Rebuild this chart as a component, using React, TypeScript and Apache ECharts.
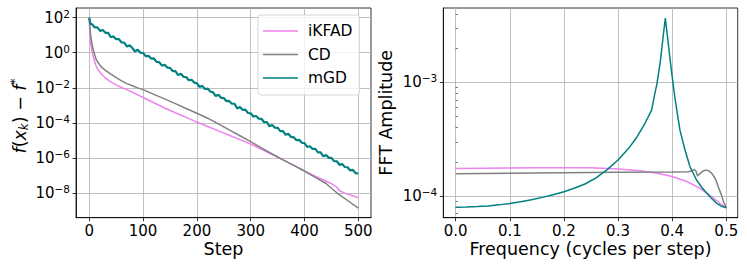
import React, { useEffect, useRef } from 'react';
import * as echarts from 'echarts';

// ---------- Left panel: optimality gap f(x_k) - f* (stored as log10 values) ----------
const stepTicks = [0, 100, 200, 300, 400, 500];
const gapTickExps = [-8, -6, -4, -2, 0, 2];

const ikfadSteps = [0, 1, 2, 3, 4, 6, 8, 10, 12, 15, 20, 25, 30, 40, 50, 60, 70, 80, 90, 100, 120, 140, 160, 180, 200, 220, 240, 260, 280, 300, 320, 340, 360, 380, 400, 420, 440, 450, 460, 466, 475, 490, 500];
const ikfadLog10 = [2.0, 1.1, 0.7, 0.45, 0.25, -0.05, -0.3, -0.5, -0.7, -0.9, -1.12, -1.3, -1.44, -1.66, -1.83, -1.98, -2.1, -2.25, -2.4, -2.55, -2.85, -3.15, -3.42, -3.68, -3.95, -4.2, -4.45, -4.7, -4.95, -5.2, -5.5, -5.8, -6.1, -6.42, -6.74, -7.03, -7.32, -7.46, -7.66, -7.88, -8.0, -8.15, -8.26];

const cdSteps = [0, 1, 2, 3, 4, 6, 8, 10, 12, 15, 20, 25, 30, 40, 50, 60, 70, 80, 90, 100, 120, 140, 160, 180, 200, 220, 240, 260, 280, 300, 320, 340, 360, 380, 400, 420, 440, 460, 480, 500];
const cdLog10 = [2.0, 1.55, 1.15, 0.9, 0.7, 0.35, 0.08, -0.12, -0.32, -0.5, -0.72, -0.88, -1.0, -1.22, -1.42, -1.6, -1.76, -1.88, -2.0, -2.1, -2.37, -2.63, -2.9, -3.18, -3.45, -3.73, -4.05, -4.4, -4.73, -5.07, -5.42, -5.77, -6.1, -6.42, -6.74, -7.1, -7.45, -7.98, -8.42, -8.86];

const mgdSteps = [0, 2, 5, 10, 15, 20, 25, 30, 35, 40, 45, 50, 55, 60, 65, 70, 75, 80, 85, 90, 95, 100,
  105, 110, 115, 120, 125, 130, 135, 140, 145, 150, 155, 160, 165, 170, 175, 180, 185, 190, 195, 200,
  205, 210, 215, 220, 225, 230, 235, 240, 245, 250, 255, 260, 265, 270, 275, 280, 285, 290, 295, 300,
  305, 310, 315, 320, 325, 330, 335, 340, 345, 350, 355, 360, 365, 370, 375, 380, 385, 390, 395, 400,
  405, 410, 415, 420, 425, 430, 435, 440, 445, 450, 455, 460, 465, 470, 475, 480, 485, 490, 495, 500];
const mgdLog10 = [2.0, 1.65, 1.625, 1.45, 1.444, 1.248, 1.293, 1.137, 1.131, 0.885, 0.93, 0.774, 0.778, 0.583, 0.577, 0.351, 0.426, 0.27, 0.074, 0.178, 0.003, -0.013,
  -0.199, -0.174, -0.33, -0.326, -0.522, -0.537, -0.733, -0.679, -0.844, -0.86, -1.046, -1.041, -1.277, -1.193, -1.369, -1.384, -1.57, -1.536, -1.701, -1.737,
  -1.943, -1.888, -2.064, -2.04, -2.216, -2.251, -2.467, -2.393, -2.568, -2.584, -2.76, -2.745, -2.901, -2.907, -3.173, -3.098, -3.254, -3.24, -3.435, -3.451,
  -3.637, -3.602, -3.758, -3.764, -3.96, -3.955, -4.191, -4.117, -4.272, -4.278, -4.464, -4.469, -4.675, -4.621, -4.797, -4.822, -4.988, -4.964, -5.129, -5.145,
  -5.371, -5.326, -5.482, -5.478, -5.674, -5.679, -5.905, -5.831, -5.986, -5.992, -6.178, -6.183, -6.389, -6.345, -6.511, -6.526, -6.712, -6.678, -6.863, -6.879];

// ---------- Right panel: FFT amplitude (stored as log10 values) ----------
const freqTicks = [0, 0.1, 0.2, 0.3, 0.4, 0.5];
const ampTickExps = [-4, -3];
const ampMinorValues = [7e-5, 8e-5, 9e-5, 2e-4, 3e-4, 4e-4, 5e-4, 6e-4, 7e-4, 8e-4, 9e-4, 2e-3, 3e-3, 4e-3];

const ikfadFreq = [0, 0.05, 0.1, 0.15, 0.2, 0.25, 0.3, 0.34, 0.37, 0.4, 0.427, 0.451, 0.47, 0.488, 0.5];
const ikfadAmpLog10 = [-3.757, -3.755, -3.753, -3.751, -3.75, -3.751, -3.762, -3.778, -3.797, -3.828, -3.872, -3.93, -3.995, -4.065, -4.103];

const cdFreq = [0, 0.1, 0.2, 0.3, 0.4, 0.43, 0.436, 0.441, 0.444, 0.447, 0.451, 0.456, 0.462, 0.468, 0.474, 0.48, 0.486, 0.491, 0.495, 0.5];
const cdAmpLog10 = [-3.804, -3.8, -3.795, -3.791, -3.789, -3.787, -3.78, -3.766, -3.78, -3.823, -3.805, -3.782, -3.772, -3.778, -3.805, -3.85, -3.93, -3.99, -4.05, -4.103];

const mgdFreq = [0, 0.02, 0.04, 0.06, 0.08, 0.1, 0.12, 0.14, 0.16, 0.18, 0.2, 0.22, 0.24, 0.26, 0.28, 0.3, 0.32, 0.335, 0.35, 0.356, 0.362, 0.367, 0.3714, 0.3755, 0.3788, 0.3836, 0.3874, 0.391, 0.396, 0.399, 0.402, 0.4055, 0.4095, 0.4144, 0.4237, 0.433, 0.445, 0.455, 0.464, 0.473, 0.482, 0.491, 0.5];
const mgdAmpLog10 = [-4.098, -4.097, -4.093, -4.087, -4.078, -4.066, -4.051, -4.033, -4.012, -3.988, -3.962, -3.93, -3.892, -3.838, -3.768, -3.683, -3.578, -3.48, -3.357, -3.3, -3.244, -3.12, -3.024, -2.9, -2.789, -2.584, -2.432, -2.584, -2.789, -2.91, -3.024, -3.15, -3.273, -3.42, -3.595, -3.742, -3.859, -3.925, -3.976, -4.022, -4.064, -4.09, -4.103];

const COLORS = { ikfad: '#ee82ee', cd: '#808080', mgd: '#008080' };
const FONT = "'DejaVu Sans', sans-serif";

const pairs = (xs: number[], ys: number[]) => xs.map((x, i) => [x, ys[i]]);
const expText = (v: number) => (v < 0 ? '\u2212' + String(-v) : String(v));
const powLabel = (v: number) => `{b|10}{s|${expText(Math.round(v))}}`;

const powRich = {
  b: { fontSize: 15, fontFamily: FONT, color: '#000' },
  s: { fontSize: 10.5, fontFamily: FONT, color: '#000', padding: [0, 0, 8, 0] },
};

const lineAxis = { show: true, onZero: false, lineStyle: { color: '#000', width: 0.8 } };
const gridLine = { show: true, lineStyle: { color: '#b0b0b0', width: 0.8 } };

function buildOption() {
  const tickStyle = (vals: number[]) => ({ show: true, inside: false, length: 3.5, customValues: vals, lineStyle: { color: '#000', width: 0.8 } });
  const lineSeries = (name: string, color: string, xi: number, yi: number, data: number[][], z: number, width = 1.5) => ({
    type: 'line', name, xAxisIndex: xi, yAxisIndex: yi, data, symbol: 'none', showSymbol: false,
    lineStyle: { color, width }, itemStyle: { color }, z, silent: true,
  });
  return {
    animation: false,
    textStyle: { fontFamily: FONT },
    grid: [
      { left: 76, top: 8, width: 295, height: 209.7, show: true, borderColor: '#000', borderWidth: 0.8, backgroundColor: 'transparent' },
      { left: 443.3, top: 8, width: 294.4, height: 209.7, show: true, borderColor: '#000', borderWidth: 0.8, backgroundColor: 'transparent' },
    ],
    xAxis: [
      {
        type: 'value', gridIndex: 0, min: -24.7, max: 523.6,
        axisLine: lineAxis, axisTick: tickStyle(stepTicks), splitLine: gridLine,
        axisLabel: { customValues: stepTicks, fontSize: 15, lineHeight: 15, fontFamily: FONT, color: '#000', margin: 6, formatter: (v: number) => String(v) },
      },
      {
        type: 'value', gridIndex: 1, min: -0.0229, max: 0.5211,
        axisLine: lineAxis, axisTick: tickStyle(freqTicks), splitLine: gridLine,
        axisLabel: { customValues: freqTicks, fontSize: 15, lineHeight: 15, fontFamily: FONT, color: '#000', margin: 6, formatter: (v: number) => v.toFixed(1) },
      },
    ],
    yAxis: [
      {
        type: 'value', gridIndex: 0, min: -9.4, max: 2.55,
        axisLine: lineAxis, axisTick: tickStyle(gapTickExps), splitLine: gridLine,
        axisLabel: { customValues: gapTickExps, margin: 6, formatter: powLabel, rich: powRich },
      },
      {
        type: 'value', gridIndex: 1, min: -4.191, max: -2.344,
        axisLine: lineAxis, axisTick: tickStyle(ampTickExps), splitLine: gridLine,
        axisLabel: { customValues: ampTickExps, margin: 6, formatter: powLabel, rich: powRich },
      },
      {
        type: 'value', gridIndex: 1, min: -4.191, max: -2.344,
        axisLine: { show: false }, splitLine: { show: false }, axisLabel: { show: false },
        axisTick: { show: true, inside: false, length: 2, customValues: ampMinorValues.map((v) => Math.log10(v)), lineStyle: { color: '#000', width: 0.6 } },
      },
    ],
    legend: {
      orient: 'vertical', left: 258, top: 15,
      icon: 'rect',
      itemWidth: 35, itemHeight: 1.6, itemGap: 7.5,
      padding: [8, 7, 9, 5],
      backgroundColor: 'rgba(255,255,255,0.8)', borderColor: '#cccccc', borderWidth: 0.8, borderRadius: 3,
      textStyle: { fontFamily: FONT, fontSize: 15.5, color: '#000', padding: [0, 0, 0, 5] },
      data: ['iKFAD', 'CD', 'mGD'],
      selectedMode: false,
    },
    graphic: [
      { type: 'text', x: 223.5, y: 248.6, style: { text: 'Step', fontSize: 17.5, lineHeight: 17.5, fontFamily: FONT, fill: '#000', textAlign: 'center', textVerticalAlign: 'middle' } },
      { type: 'text', x: 590.5, y: 248.6, style: { text: 'Frequency (cycles per step)', fontSize: 17.5, lineHeight: 17.5, fontFamily: FONT, fill: '#000', textAlign: 'center', textVerticalAlign: 'middle' } },
      { type: 'text', x: 386, y: 112.8, rotation: Math.PI / 2, style: { text: 'FFT Amplitude', fontSize: 17.5, fontFamily: FONT, fill: '#000', textAlign: 'center', textVerticalAlign: 'middle' } },
      {
        type: 'text', x: 19.5, y: 116, rotation: Math.PI / 2,
        style: {
          text: '{i|f}{n|(}{i|x}{sub|k}{n|) \u2212 }{i|f}{sup|*}',
          textAlign: 'center', textVerticalAlign: 'middle', fill: '#000',
          rich: {
            i: { fontSize: 17.5, fontFamily: FONT, fontStyle: 'italic', fill: '#000' },
            n: { fontSize: 17.5, fontFamily: FONT, fill: '#000' },
            sub: { fontSize: 12, fontFamily: FONT, fontStyle: 'italic', fill: '#000', padding: [8, 0, 0, 0] },
            sup: { fontSize: 12, fontFamily: FONT, fill: '#000', padding: [0, 0, 10, 0] },
          },
        },
      },
    ],
    series: [
      lineSeries('iKFAD', COLORS.ikfad, 0, 0, pairs(ikfadSteps, ikfadLog10), 2),
      lineSeries('CD', COLORS.cd, 0, 0, pairs(cdSteps, cdLog10), 3),
      lineSeries('mGD', COLORS.mgd, 0, 0, pairs(mgdSteps, mgdLog10), 4, 2.2),
      lineSeries('iKFAD', COLORS.ikfad, 1, 1, pairs(ikfadFreq, ikfadAmpLog10), 2),
      lineSeries('CD', COLORS.cd, 1, 1, pairs(cdFreq, cdAmpLog10), 3),
      lineSeries('mGD', COLORS.mgd, 1, 1, pairs(mgdFreq, mgdAmpLog10), 4),
    ],
  };
}

export default function App() {
  const ref = useRef<HTMLDivElement>(null);
  useEffect(() => {
    if (!ref.current) return;
    const chart = echarts.init(ref.current, null, { renderer: 'svg' });
    chart.setOption(buildOption() as any);
    return () => chart.dispose();
  }, []);
  return <div ref={ref} style={{ position: 'absolute', left: 0, top: 0, width: 747, height: 267 }} />;
}
